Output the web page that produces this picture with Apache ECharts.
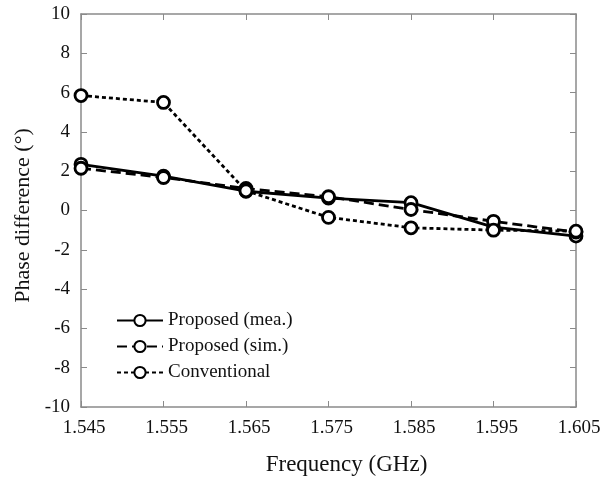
<!DOCTYPE html>
<html>
<head>
<meta charset="utf-8">
<script src="https://cdn.jsdelivr.net/npm/echarts@6/dist/echarts.min.js"></script>
<style>
	html, body { margin: 0; padding: 0; background: #fff; }
	#chart { width: 614px; height: 477px; }
</style>
</head>
<body>
<div id="chart"></div>
<script>
	// 频率 (GHz)
	var freqs = ['1.545', '1.555', '1.565', '1.575', '1.585', '1.595', '1.605'];
	// 相位差 (°)
	var proposedMea = [2.35, 1.75, 0.98, 0.63, 0.4, -0.85, -1.3];
	var proposedSim = [2.15, 1.68, 1.12, 0.7, 0.05, -0.55, -1.1];
	var conventional = [5.85, 5.5, 1.0, -0.35, -0.88, -1.0, -1.05];

	var chart = echarts.init(document.getElementById('chart'));
	var font = 'Liberation Serif';
	var axisGray = '#8a8a8a';

	function series(name, data, type) {
		return {
			name: name,
			type: 'line',
			data: data,
			symbol: 'circle',
			symbolSize: 12,
			itemStyle: { color: '#fff', borderColor: '#000', borderWidth: 2.8 },
			lineStyle: { color: '#000', width: 2.8, type: type },
			z: 3
		};
	}

	var option = {
		animation: false,
		textStyle: { fontFamily: font },
		grid: { left: 81, right: 38, top: 14, bottom: 70, outerBoundsMode: 'none' },
		legend: {
			left: 111,
			top: 306,
			orient: 'vertical',
			itemWidth: 46,
			itemHeight: 14,
			itemGap: 7,
			textStyle: { fontFamily: font, fontSize: 19, color: '#111' },
			data: ['Proposed (mea.)', 'Proposed (sim.)', 'Conventional']
		},
		xAxis: [{
			type: 'category',
			data: freqs,
			boundaryGap: false,
			name: 'Frequency (GHz)',
			nameLocation: 'middle',
			nameGap: 46,
			nameTextStyle: { fontFamily: font, fontSize: 23, color: '#111', padding: [0, 0, 0, 36] },
			axisLine: { onZero: false, lineStyle: { color: axisGray, width: 1.5 } },
			axisTick: { inside: true, length: 6, lineStyle: { color: axisGray } },
			axisLabel: { fontFamily: font, fontSize: 19, color: '#111', margin: 12, padding: [0, 0, 0, 6] },
			splitLine: { show: false }
		}, {
			type: 'category',
			data: freqs,
			boundaryGap: false,
			position: 'top',
			axisLine: { onZero: false, lineStyle: { color: axisGray, width: 1.5 } },
			axisTick: { inside: true, length: 6, lineStyle: { color: axisGray } },
			axisLabel: { show: false },
			splitLine: { show: false }
		}],
		yAxis: [{
			type: 'value',
			min: -10,
			max: 10,
			interval: 2,
			name: 'Phase difference (°)',
			nameLocation: 'middle',
			nameGap: 42,
			nameTextStyle: { fontFamily: font, fontSize: 22, color: '#111', padding: [0, 10, 0, 0] },
			axisLine: { show: true, lineStyle: { color: axisGray, width: 1.5 } },
			axisTick: { show: true, inside: true, length: 6, lineStyle: { color: axisGray } },
			axisLabel: { fontFamily: font, fontSize: 19, color: '#111', margin: 11 },
			splitLine: { show: false }
		}, {
			type: 'value',
			min: -10,
			max: 10,
			interval: 2,
			position: 'right',
			axisLine: { show: true, lineStyle: { color: axisGray, width: 1.5 } },
			axisTick: { show: true, inside: true, length: 6, lineStyle: { color: axisGray } },
			axisLabel: { show: false },
			splitLine: { show: false }
		}],
		series: [
			series('Proposed (mea.)', proposedMea, 'solid'),
			series('Proposed (sim.)', proposedSim, [10, 5]),
			series('Conventional', conventional, [4, 3])
		]
	};
	chart.setOption(option);
</script>
</body>
</html>
